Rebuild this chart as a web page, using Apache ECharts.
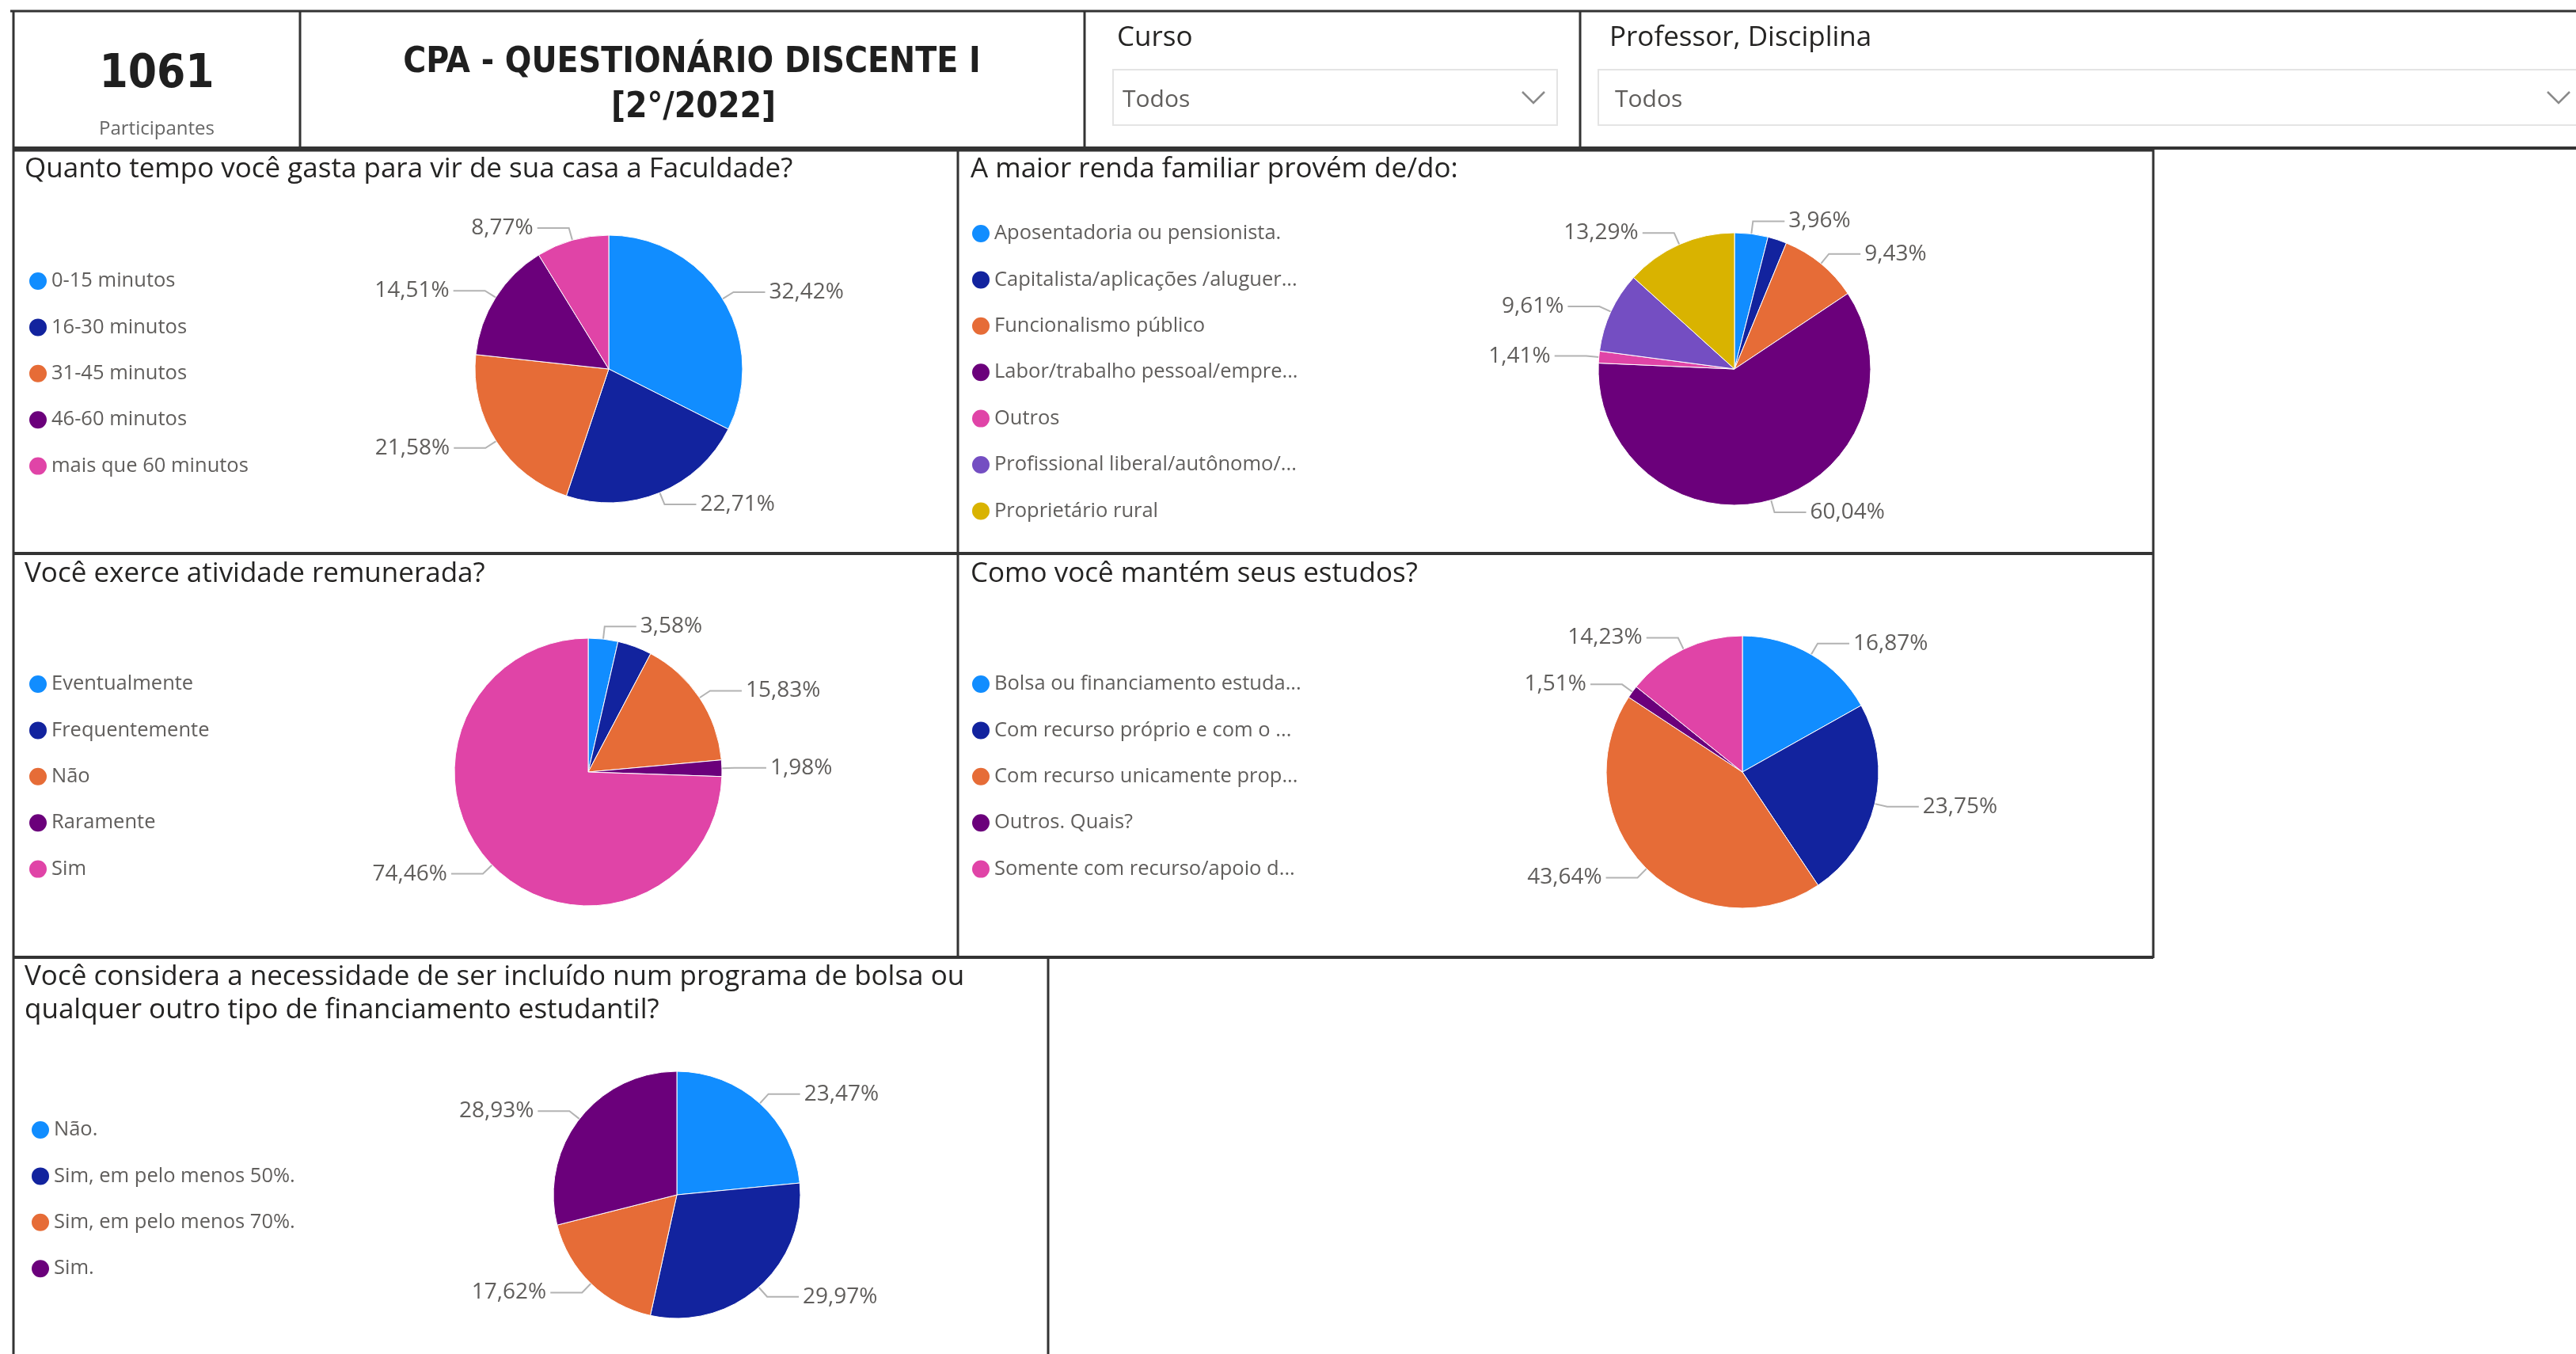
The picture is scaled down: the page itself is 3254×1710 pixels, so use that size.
<!DOCTYPE html>
<html>
<head>
<meta charset="utf-8">
<script src="https://cdn.jsdelivr.net/npm/echarts@6/dist/echarts.min.js"></script>
<style>
  html, body { margin: 0; padding: 0; background: #ffffff; }
  #main { width: 3254px; height: 1710px; }
</style>
</head>
<body>
<div id="main"></div>
<script>
// ---------- DATA ----------
const participants = '1061';
const headerTitle = ['CPA - QUESTIONÁRIO DISCENTE I', '[2°/2022]'];

const tempoTitle = 'Quanto tempo você gasta para vir de sua casa a Faculdade?';
const tempoCats = ['0-15 minutos', '16-30 minutos', '31-45 minutos', '46-60 minutos', 'mais que 60 minutos'];
const tempoVals = [32.42, 22.71, 21.58, 14.51, 8.77];

const rendaTitle = 'A maior renda familiar provém de/do:';
const rendaCats = ['Aposentadoria ou pensionista.', 'Capitalista/aplicações /aluguer...', 'Funcionalismo público',
  'Labor/trabalho pessoal/empre...', 'Outros', 'Profissional liberal/autônomo/...', 'Proprietário rural'];
const rendaVals = [3.96, 2.26, 9.43, 60.04, 1.41, 9.61, 13.29];
const rendaHidden = [1];

const remunTitle = 'Você exerce atividade remunerada?';
const remunCats = ['Eventualmente', 'Frequentemente', 'Não', 'Raramente', 'Sim'];
const remunVals = [3.58, 4.15, 15.83, 1.98, 74.46];
const remunHidden = [1];

const estudosTitle = 'Como você mantém seus estudos?';
const estudosCats = ['Bolsa ou financiamento estuda...', 'Com recurso próprio e com o ...', 'Com recurso unicamente prop...',
  'Outros. Quais?', 'Somente com recurso/apoio d...'];
const estudosVals = [16.87, 23.75, 43.64, 1.51, 14.23];

const bolsaTitle = 'Você considera a necessidade de ser incluído num programa de bolsa ou\nqualquer outro tipo de financiamento estudantil?';
const bolsaCats = ['Não.', 'Sim, em pelo menos 50%.', 'Sim, em pelo menos 70%.', 'Sim.'];
const bolsaVals = [23.47, 29.97, 17.62, 28.93];

const palette = ['#118DFF', '#12239E', '#E66C37', '#6B007B', '#E044A7', '#744EC2', '#D9B300'];

// ---------- STYLE ----------
const FONT = "'Segoe UI', 'Open Sans', sans-serif";
const HFONT = "'DejaVu Sans Condensed', 'Liberation Sans Narrow', sans-serif";
const DARK = '#333333';
const TXT = '#252423';
const GREY = '#605E5C';

function pct(v) { return v.toFixed(2).replace('.', ',') + '%'; }

function pieSeries(name, cats, vals, hidden, center, radius) {
  return {
    type: 'pie',
    name: name,
    center: center,
    radius: radius,
    startAngle: 90,
    clockwise: true,
    animation: false,
    avoidLabelOverlap: true,
    itemStyle: { borderColor: '#ffffff', borderWidth: 1 },
    label: {
      show: true,
      position: 'outside',
      formatter: p => pct(p.value),
      fontFamily: FONT,
      fontSize: 28,
      color: GREY
    },
    labelLine: { show: true, length: 16, length2: 40, lineStyle: { color: '#b3b3b3', width: 2 } },
    emphasis: { disabled: true },
    data: cats.map((c, i) => {
      const d = { name: c, value: vals[i], itemStyle: { color: palette[i] } };
      if (hidden && hidden.indexOf(i) >= 0) {
        d.label = { show: false };
        d.labelLine = { show: false };
      }
      return d;
    })
  };
}

function legend(cats, left, top) {
  return {
    data: cats,
    orient: 'vertical',
    left: left,
    top: top,
    icon: 'circle',
    itemWidth: 24,
    itemHeight: 24,
    itemGap: 32.4,
    itemTextGap: 6,
    selectedMode: false,
    textStyle: { fontFamily: FONT, fontSize: 25.5, color: GREY, lineHeight: 25 }
  };
}

function panelTitle(text, left, top) {
  return {
    text: text,
    left: left,
    top: top,
    padding: 0,
    textStyle: { fontFamily: FONT, fontSize: 35, fontWeight: 'normal', color: TXT, lineHeight: 42 }
  };
}

function line(x1, y1, x2, y2, color, w) {
  return { type: 'line', silent: true, shape: { x1, y1, x2, y2 }, style: { stroke: color, lineWidth: w } };
}

const graphics = [
  // header frame
  line(13, 14, 3254, 14, DARK, 3),
  line(17, 13, 17, 1710, DARK, 3),
  line(379, 13, 379, 187, DARK, 3),
  line(1370, 13, 1370, 187, DARK, 3),
  line(1996, 13, 1996, 187, DARK, 3),
  line(17, 187, 3254, 187, DARK, 4),
  // panel grid
  line(17, 190, 2720, 190, DARK, 3),
  line(1210, 187, 1210, 1210, DARK, 3),
  line(2720, 187, 2720, 1210, DARK, 3),
  line(17, 699, 2720, 699, DARK, 4),
  line(17, 1209, 2720, 1209, DARK, 4),
  line(1324, 1209, 1324, 1710, DARK, 3),
  // header texts
  { type: 'text', silent: true, style: { text: participants, x: 198, y: 95, align: 'center', verticalAlign: 'middle',
      font: "bold 58px " + HFONT, fill: '#1f1f1f' } },
  { type: 'text', silent: true, style: { text: 'Participantes', x: 198, y: 163, align: 'center', verticalAlign: 'middle',
      font: "24px " + FONT, fill: '#666666' } },
  { type: 'text', silent: true, style: { text: headerTitle[0], x: 874, y: 80, align: 'center', verticalAlign: 'middle',
      font: "bold 44px " + HFONT, fill: '#1f1f1f' } },
  { type: 'text', silent: true, style: { text: headerTitle[1], x: 876, y: 137, align: 'center', verticalAlign: 'middle',
      font: "bold 44px " + HFONT, fill: '#1f1f1f' } },
  // slicers
  { type: 'text', silent: true, style: { text: 'Curso', x: 1411, y: 48, verticalAlign: 'middle', font: "35px " + FONT, fill: TXT } },
  { type: 'rect', silent: true, shape: { x: 1406, y: 88, width: 561, height: 70 }, style: { fill: '#fff', stroke: '#e4e4e4', lineWidth: 2 } },
  { type: 'text', silent: true, style: { text: 'Todos', x: 1418, y: 126, verticalAlign: 'middle', font: "30px " + FONT, fill: GREY } },
  { type: 'polyline', silent: true, shape: { points: [[1923, 116], [1937, 130], [1951, 116]] }, style: { stroke: '#8a8a8a', lineWidth: 2.5, fill: null } },
  { type: 'text', silent: true, style: { text: 'Professor, Disciplina', x: 2033, y: 48, verticalAlign: 'middle', font: "35px " + FONT, fill: TXT } },
  { type: 'rect', silent: true, shape: { x: 2019, y: 88, width: 1250, height: 70 }, style: { fill: '#fff', stroke: '#e4e4e4', lineWidth: 2 } },
  { type: 'text', silent: true, style: { text: 'Todos', x: 2040, y: 126, verticalAlign: 'middle', font: "30px " + FONT, fill: GREY } },
  { type: 'polyline', silent: true, shape: { points: [[3218, 116], [3232, 130], [3246, 116]] }, style: { stroke: '#8a8a8a', lineWidth: 2.5, fill: null } }
];

const option = {
  backgroundColor: '#ffffff',
  animation: false,
  title: [
    panelTitle(tempoTitle, 31, 193),
    panelTitle(rendaTitle, 1226, 193),
    panelTitle(remunTitle, 31, 704),
    panelTitle(estudosTitle, 1226, 704),
    panelTitle(bolsaTitle, 31, 1213)
  ],
  legend: [
    legend(tempoCats, 30, 337),
    legend(rendaCats, 1221, 277),
    legend(remunCats, 30, 846),
    legend(estudosCats, 1221, 846),
    legend(bolsaCats, 33, 1409)
  ],
  graphic: { elements: graphics },
  series: [
    pieSeries('tempo', tempoCats, tempoVals, null, [769, 466], 169),
    pieSeries('renda', rendaCats, rendaVals, rendaHidden, [2191, 466], 172),
    pieSeries('remun', remunCats, remunVals, remunHidden, [743, 975], 169),
    pieSeries('estudos', estudosCats, estudosVals, null, [2201, 975], 172),
    pieSeries('bolsa', bolsaCats, bolsaVals, null, [855, 1509], 156)
  ]
};

const chart = echarts.init(document.getElementById('main'), null, { renderer: 'canvas' });
chart.setOption(option);
</script>
</body>
</html>
